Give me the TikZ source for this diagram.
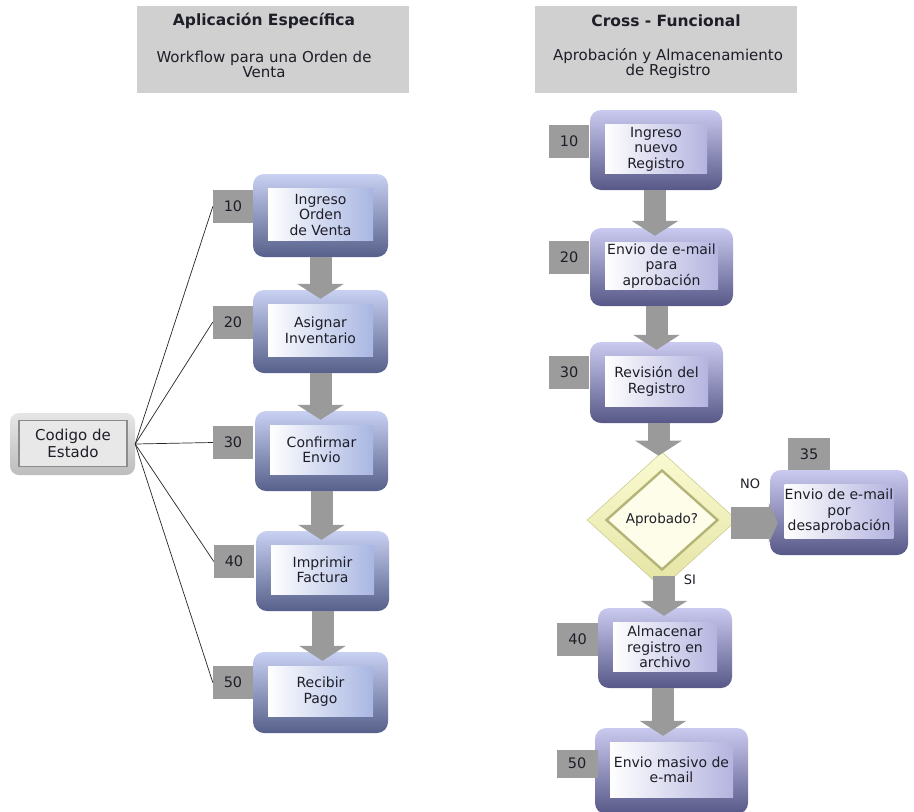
\documentclass[tikz,border=0pt]{standalone}
\usepackage{fontspec}
\setmainfont{DejaVu Sans}
\usetikzlibrary{arrows.meta,shapes.geometric,calc}

\definecolor{hdrgray}{HTML}{D0D0D0}
\definecolor{numgray}{HTML}{9C9C9C}
\definecolor{arrgray}{HTML}{9A9A9A}
\definecolor{txtdark}{HTML}{1E1E28}
% bevelled blue boxes (left column)
\definecolor{bvtopA}{HTML}{C8D1F2}
\definecolor{bvmidA}{HTML}{9DA8D6}
\definecolor{bvbotA}{HTML}{56608A}
\definecolor{facerA}{HTML}{A8B6E2}
% bevelled lavender boxes (right column)
\definecolor{bvtopB}{HTML}{CACAF0}
\definecolor{bvmidB}{HTML}{A0A0D2}
\definecolor{bvbotB}{HTML}{585888}
\definecolor{facerB}{HTML}{B4B4E0}
% decision diamond
\definecolor{yeltop}{HTML}{FAFAD2}
\definecolor{yelbot}{HTML}{E4E4A4}
\definecolor{yeledge}{HTML}{B4B478}
\definecolor{yelface}{HTML}{FDFDEA}

\newcommand\boxfont{\fontsize{14}{15.5}\selectfont}

\tikzset{
  outerA/.style={rectangle, rounded corners=11pt, inner sep=0pt,
    top color=bvtopA, middle color=bvmidA, bottom color=bvbotA},
  outerB/.style={rectangle, rounded corners=11pt, inner sep=0pt,
    top color=bvtopB, middle color=bvmidB, bottom color=bvbotB},
  faceA/.style={rectangle, inner sep=0pt, left color=white, right color=facerA,
    align=center, font=\boxfont, text=txtdark},
  faceB/.style={rectangle, inner sep=0pt, left color=white, right color=facerB,
    align=center, font=\boxfont, text=txtdark},
  numbox/.style={rectangle, fill=numgray, inner sep=0pt, minimum width=40pt,
    minimum height=33pt, font=\fontsize{14.5}{16}\selectfont, text=txtdark},
  hdrbox/.style={rectangle, fill=hdrgray, inner sep=0pt},
  hdrtitle/.style={font=\fontsize{15.5}{18}\selectfont\bfseries, text=txtdark},
  hdrsub/.style={align=center, font=\fontsize{15}{15}\selectfont, text=txtdark},
  blockarrow/.style={draw=arrgray, line width=22pt,
    -{Triangle[width=46pt,length=15pt,fill=arrgray]}},
  sidearrow/.style={draw=arrgray, line width=32pt,
    -{Triangle[width=40pt,length=9pt,fill=arrgray]}},
  statusline/.style={draw=black!85, line width=0.7pt},
  flowlabel/.style={font=\fontsize{13}{15}\selectfont, text=txtdark}
}

% \flowbox{name}{x1}{y1}{x2}{y2}{palette}{text}
\newcommand\flowbox[7]{%
  \node[outer#6, minimum width={(#4-#2)*1pt}, minimum height={(#5-#3)*1pt}]
    (#1) at ({(#2+#4)/2},{(#3+#5)/2}) {};
  \node[face#6, minimum width={(#4-#2-30)*1pt}, minimum height={(#5-#3-31)*1pt}]
    (#1f) at ({(#2+#4)/2},{(#3+#5)/2-1}) {#7};
}

\begin{document}
\begin{tikzpicture}[x=1pt,y=-1pt]
\fill[white] (0,0) rectangle (914,812);
\useasboundingbox (0,0) rectangle (914,812);

% ---------- headers ----------
\node[hdrbox, minimum width=272pt, minimum height=87pt] (hL) at (273,49.5) {};
\node[hdrtitle] (hLt) at (264,21) {Aplicación Específica};
\node[hdrsub] (hLs) at (264,64) {Workflow para una Orden de\\Venta};

\node[hdrbox, minimum width=262pt, minimum height=87pt] (hR) at (666,49.5) {};
\node[hdrtitle] (hRt) at (666,21) {Cross - Funcional};
\node[hdrsub] (hRs) at (668,64) {Aprobación y Almacenamiento\\de Registro};

% ---------- left column: order workflow ----------
\flowbox{L1}{253}{174}{388}{257}{A}{Ingreso\\Orden\\de Venta}
\flowbox{L2}{253}{290}{388}{373}{A}{Asignar\\Inventario}
\flowbox{L3}{255}{411}{388}{491}{A}{Confirmar\\Envio}
\flowbox{L4}{256}{531}{389}{611}{A}{Imprimir\\Factura}
\flowbox{L5}{253}{652}{388}{733}{A}{Recibir\\Pago}

\node[numbox] (n10) at (233,206.5) {10};
\node[numbox] (n20) at (233,322) {20};
\node[numbox] (n30) at (233,442.5) {30};
\node[numbox] (n40) at (234,561.5) {40};
\node[numbox] (n50) at (233,682.5) {50};

\draw[blockarrow] (L1.south) -- ([yshift=-9pt]L1.south |- L2.north);
\draw[blockarrow] (L2.south) -- ([yshift=-9pt]L2.south |- L3.north);
\draw[blockarrow] (L3.south) -- ([yshift=-9pt]L3.south |- L4.north);
\draw[blockarrow] (L4.south) -- ([yshift=-9pt]L4.south |- L5.north);

% status code box
\node[rectangle, rounded corners=9pt, minimum width=125pt, minimum height=62pt,
  top color=black!10, bottom color=black!26, inner sep=0pt] (cod) at (72.5,444) {};
\node[rectangle, minimum width=108pt, minimum height=46pt, fill=black!9,
  draw=black!45, line width=1.4pt, align=center,
  font=\fontsize{15}{16.5}\selectfont, text=txtdark] (codf) at (73,443.5) {Codigo de\\Estado};

\foreach \n in {n10,n20,n30,n40,n50}
  \draw[statusline] (cod.east) -- (\n.west);

% ---------- right column: record approval ----------
\flowbox{R1}{590}{110}{722}{190}{B}{Ingreso\\nuevo\\Registro}
\flowbox{R2}{590}{228}{733}{306}{B}{Envio de e-mail\\para\\aprobación}
\flowbox{R3}{590}{342}{723}{423}{B}{Revisión del\\Registro}
\flowbox{R35}{770}{470}{908}{555}{B}{Envio de e-mail\\por\\desaprobación}
\flowbox{R4}{598}{608}{732}{688}{B}{Almacenar\\registro en\\archivo}
\flowbox{R5}{595}{728}{748}{814}{B}{Envio masivo de\\e-mail}

\node[numbox] (m10) at (569,141.5) {10};
\node[numbox] (m20) at (569,257.5) {20};
\node[numbox] (m30) at (569,372.5) {30};
\node[numbox, minimum width=42pt, minimum height=32pt] (m35) at (809,454) {35};
\node[numbox, minimum width=41pt] (m40) at (577.5,639) {40};
\node[numbox, minimum width=41pt, minimum height=28pt] (m50) at (577,763.5) {50};

% decision
\node[diamond, minimum width=150pt, minimum height=136pt, inner sep=0pt,
  top color=yeltop, bottom color=yelbot, draw=yelbot!90!black,
  line width=0.6pt] (dec) at (662,520) {};
\node[diamond, minimum width=112pt, minimum height=100pt, inner sep=0pt,
  fill=yelface, draw=yeledge, line width=2.4pt, font=\fontsize{13.5}{15}\selectfont,
  text=txtdark] (decf) at (662,520) {Aprobado?};

\draw[blockarrow] ([xshift=-1pt]R1.south) -- ([xshift=-1pt,yshift=-8pt]R1.south |- R2.north);
\draw[blockarrow] ([xshift=-5pt]R2.south) -- ([xshift=-5pt,yshift=-8pt]R2.south |- R3.north);
\draw[blockarrow] ([xshift=2pt]R3.south) -- ([xshift=2pt,yshift=-4pt]R3.south |- dec.north);
\draw[blockarrow] ([xshift=2pt,yshift=12pt]dec.south) -- ([xshift=2pt,yshift=-8pt]dec.south |- R4.north);
\draw[blockarrow] ([xshift=-2pt]R4.south) -- ([xshift=-2pt,yshift=-8pt]R4.south |- R5.north);
\draw[sidearrow] ([xshift=-6pt,yshift=-3pt]dec.east) -- ([xshift=8pt,yshift=-3pt]dec.east -| R35.west);

\node[flowlabel] (lno) at (750,484) {NO};
\node[flowlabel] (lsi) at (690,580) {SI};
\end{tikzpicture}
\end{document}
